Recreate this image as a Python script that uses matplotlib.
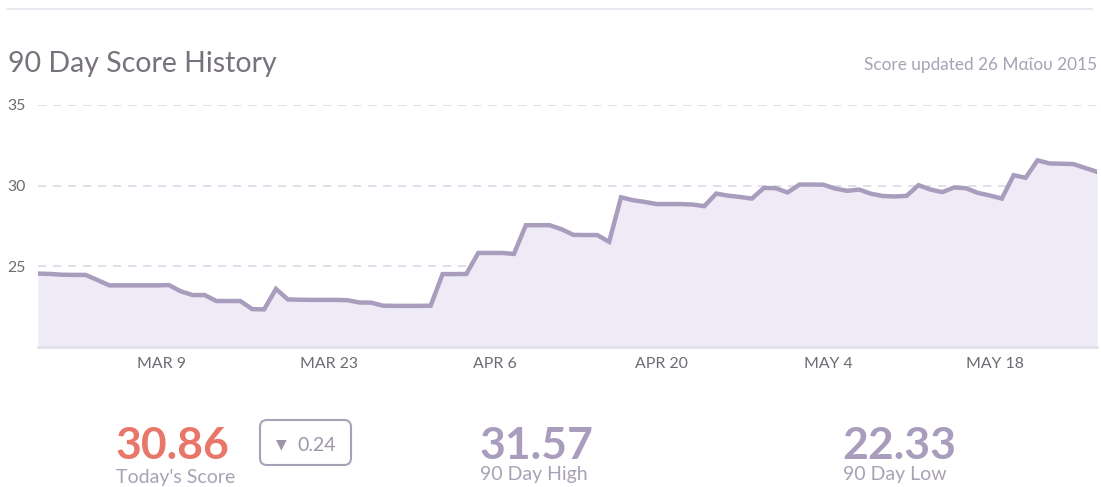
import matplotlib
matplotlib.use("Agg")
import matplotlib.pyplot as plt
import matplotlib.transforms as mtransforms
from matplotlib.patches import FancyBboxPatch
from matplotlib.lines import Line2D
import pandas as pd

# daily scores, 90 days up to 26 May 2015
scores = [24.55, 24.53, 24.48, 24.47, 24.47, 24.15, 23.82, 23.82, 23.82, 23.82,
          23.82, 23.84, 23.45, 23.22, 23.22, 22.85, 22.85, 22.85, 22.35, 22.33,
          23.60, 22.95, 22.93, 22.92, 22.92, 22.92, 22.90, 22.76, 22.75, 22.56,
          22.55, 22.55, 22.55, 22.56, 24.52, 24.52, 24.53, 25.83, 25.83, 25.83,
          25.77, 27.55, 27.55, 27.55, 27.30, 26.95, 26.94, 26.94, 26.52, 29.28,
          29.10, 28.99, 28.86, 28.86, 28.86, 28.83, 28.73, 29.51, 29.38, 29.30,
          29.20, 29.86, 29.84, 29.58, 30.07, 30.07, 30.06, 29.82, 29.68, 29.76,
          29.50, 29.36, 29.33, 29.37, 30.03, 29.76, 29.60, 29.89, 29.84, 29.55,
          29.39, 29.20, 30.65, 30.49, 31.57, 31.38, 31.36, 31.34, 31.10, 30.86]
dates = pd.date_range('2015-02-26 14:00', periods=len(scores), freq='D')

tick_dates = pd.to_datetime(['2015-03-09', '2015-03-23', '2015-04-06',
                             '2015-04-20', '2015-05-04', '2015-05-18'])
tick_labels = ['MAR 9', 'MAR 23', 'APR 6', 'APR 20', 'MAY 4', 'MAY 18']
y_ticks = [25, 30, 35]

title = '90 Day Score History'
updated = 'Score updated 26 Μαΐου 2015'

fonts = ['Lato', 'DejaVu Sans']
plt.rcParams['font.family'] = fonts

dark = '#6f6a73'
muted = '#a9a1b5'
purple = '#a99dbe'
W, H = 1101, 487

fig = plt.figure(figsize=(W / 100, H / 100), dpi=100)
ax = fig.add_axes([38 / W, 1 - 347 / H, (1097 - 38) / W, (347 - 105) / H])

ax.fill_between(dates, scores, 20, color='#eeeaf6', lw=0)
ax.plot(dates, scores, color=purple, lw=3.2, solid_joinstyle='miter')

ax.set_xlim(dates[0], dates[-1])
ax.set_ylim(20, 35)
ax.set_yticks(y_ticks)
ax.set_xticks(tick_dates)
ax.set_xticklabels(tick_labels)
for y in y_ticks:
    ax.axhline(y, color='#d8dce8', lw=1.2, ls=(0, (5, 4)), zorder=0)

for s in ['top', 'right', 'left']:
    ax.spines[s].set_visible(False)
ax.spines['bottom'].set_color('#dfe2ec')
ax.spines['bottom'].set_linewidth(2)
ax.tick_params(length=0, labelsize=11.4, colors=dark)
ax.tick_params(axis='y', pad=9)
ax.tick_params(axis='x', pad=7)

# header
fig.add_artist(Line2D([7 / W, 1092 / W], [1 - 9 / H] * 2, color='#e1e5ec', lw=1.2))
fig.text(8 / W, 1 - 72 / H, title, fontsize=20.5, fontweight='normal', color='#77727b',
         va='baseline', ha='left')
fig.text(1097 / W, 1 - 70 / H, updated, fontsize=12.4, color=muted,
         va='baseline', ha='right')

# summary numbers
today = scores[-1]
change = scores[-1] - scores[-2]
high = max(scores)
low = min(scores)

fig.text(115 / W, 1 - 459 / H, f'{today:.2f}', fontsize=32, fontweight='bold',
         color='#e8776a', va='baseline')
fig.text(116 / W, 1 - 483 / H, "Today's Score", fontsize=14, color=muted, va='baseline')

box = FancyBboxPatch((260, H - 465), 91, 45, boxstyle='round,pad=0,rounding_size=7',
                     transform=mtransforms.IdentityTransform(),
                     fc='none', ec=muted, lw=1.5)
fig.add_artist(box)
fig.text(281 / W, 1 - 444 / H, '▼' if change < 0 else '▲', fontsize=10,
         color='#9e95a8', ha='center', va='center', family='DejaVu Sans')
fig.text(297 / W, 1 - 451 / H, f'{abs(change):.2f}', fontsize=14, color='#9e95a8',
         va='baseline')

fig.text(479 / W, 1 - 459 / H, f'{high:.2f}', fontsize=32, fontweight='bold',
         color=purple, va='baseline')
fig.text(480 / W, 1 - 480 / H, '90 Day High', fontsize=14, color=muted, va='baseline')
fig.text(842 / W, 1 - 459 / H, f'{low:.2f}', fontsize=32, fontweight='bold',
         color=purple, va='baseline')
fig.text(843 / W, 1 - 480 / H, '90 Day Low', fontsize=14, color=muted, va='baseline')

fig.savefig('out.png', dpi=100)
